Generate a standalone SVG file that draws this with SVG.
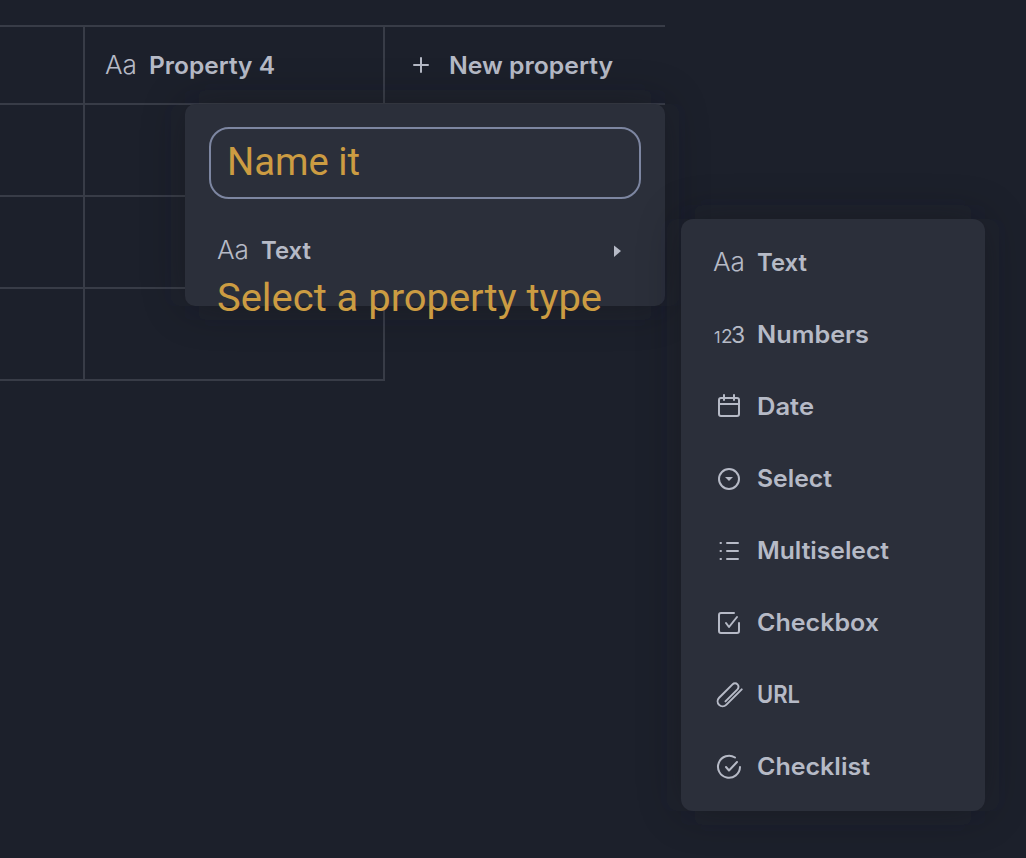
<svg xmlns="http://www.w3.org/2000/svg" width="1026" height="858" viewBox="0 0 1026 858">
<style>
.g{stroke:#383c47;stroke-width:2;fill:none}
.p{fill:#2b2f3a}
.l{font-family:"Inter","Liberation Sans",sans-serif;font-weight:600;font-size:24px;fill:#b6bac6}
.a{font-family:"Inter","Liberation Sans",sans-serif;font-weight:300;font-size:26px;fill:#b6bac6}
.o{font-family:"Roboto","Liberation Sans",sans-serif;font-weight:400;font-size:39px;fill:#cc9c42}
.i{stroke:#b6bac6;stroke-width:2;fill:none;stroke-linecap:round;stroke-linejoin:round}
</style>
<defs>
<filter id="s" filterUnits="userSpaceOnUse" x="0" y="0" width="1026" height="858"><feGaussianBlur stdDeviation="22"/></filter>
</defs>
<rect width="1026" height="858" fill="#1c202b"/>
<g id="connectors">
<path class="g" d="M0 26H665M0 104H665M0 196H384M0 288H384M0 380H385M84 26V380M384 26V381"/>
</g>
<g id="header-property-4">
<text class="a" x="105" y="74" textLength="32" lengthAdjust="spacingAndGlyphs">Aa</text>
<text class="l" x="149" y="73.500" textLength="126" lengthAdjust="spacingAndGlyphs">Property 4</text>
</g>
<g id="header-new-property">
<path class="i" d="M414 65H428M421 58V72"/>
<text class="l" x="449" y="73.500" textLength="164" lengthAdjust="spacingAndGlyphs">New property</text>
</g>
<g id="name-popup">
<rect x="185" y="104" width="480" height="202" rx="10" fill="#12141c" opacity=".35" filter="url(#s)"/>
<rect class="p" x="185" y="104" width="480" height="202" rx="10"/>
<rect x="210" y="128" width="430" height="70" rx="19" fill="none" stroke="#7d86a1" stroke-width="2"/>
<text class="o" x="227" y="175" textLength="133" lengthAdjust="spacingAndGlyphs">Name it</text>
<text class="a" x="217" y="259" textLength="32" lengthAdjust="spacingAndGlyphs">Aa</text>
<text class="l" x="261" y="259" textLength="50" lengthAdjust="spacingAndGlyphs">Text</text>
<path d="M614 245.500L621 251L614 257Z" fill="#b6bac6"/>
<text class="o" x="217" y="311" textLength="385" lengthAdjust="spacingAndGlyphs">Select a property type</text>
</g>
<g id="type-menu">
<rect x="681" y="219" width="304" height="592" rx="12" fill="#12141c" opacity=".35" filter="url(#s)"/>
<rect class="p" x="681" y="219" width="304" height="592" rx="12"/>
</g>
<g id="type-text">
<text class="a" x="713" y="271" textLength="32" lengthAdjust="spacingAndGlyphs">Aa</text>
<text class="l" x="757" y="271" textLength="50" lengthAdjust="spacingAndGlyphs">Text</text>
</g>
<g id="type-numbers">
<text class="a" x="714" y="343" style="font-size:16px;font-weight:400">1</text>
<text class="a" x="721" y="343" style="font-size:19px;font-weight:400">2</text>
<text class="a" x="731" y="343" style="font-size:23px;font-weight:400">3</text>
<text class="l" x="757" y="343" textLength="112" lengthAdjust="spacingAndGlyphs">Numbers</text>
</g>
<g id="type-date">
<rect class="i" x="719" y="398" width="20" height="18" rx="2"/>
<path class="i" d="M719 404H739M724 395V400M734 395V400"/>
<text class="l" x="757" y="415" textLength="57" lengthAdjust="spacingAndGlyphs">Date</text>
</g>
<g id="type-select">
<circle class="i" cx="729" cy="479" r="10"/>
<path d="M725 477H733L729 481Z" fill="#b6bac6"/>
<text class="l" x="757" y="487" textLength="75" lengthAdjust="spacingAndGlyphs">Select</text>
</g>
<g id="type-multiselect">
<path class="i" d="M727 543H738M727 551H738M727 559H738M720.500 543H721M720.500 551H721M720.500 559H721"/>
<text class="l" x="757" y="559" textLength="132" lengthAdjust="spacingAndGlyphs">Multiselect</text>
</g>
<g id="type-checkbox">
<path class="i" d="M734 613H721Q719 613 719 615V631Q719 633 721 633H737Q739 633 739 631V623"/>
<path class="i" d="M726 623L729 627L737 617"/>
<text class="l" x="757" y="631" textLength="122" lengthAdjust="spacingAndGlyphs">Checkbox</text>
</g>
<g id="type-url">
<path class="i" transform="rotate(-45 729 695)" d="M742 700H720a5 5 0 0 1 0-10H739a3.500 3.500 0 0 1 0 7H722"/>
<text class="l" x="757" y="703" textLength="43" lengthAdjust="spacingAndGlyphs">URL</text>
</g>
<g id="type-checklist">
<path class="i" d="M740 767A11 11 0 1 1 735 757.500"/>
<path class="i" d="M726 767L729 770.500L737 762"/>
<text class="l" x="757" y="775" textLength="113" lengthAdjust="spacingAndGlyphs">Checklist</text>
</g>
</svg>
